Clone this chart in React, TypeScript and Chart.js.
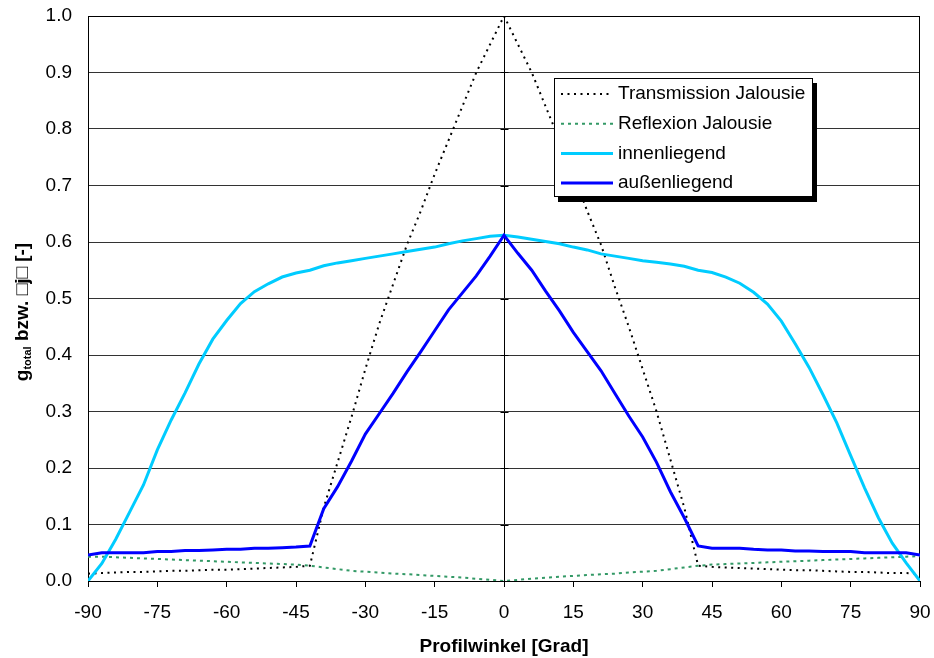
import React, { useEffect, useRef } from 'react';
import { Chart, registerables } from 'chart.js';
Chart.register(...registerables);

const FONT = "'Liberation Sans', Arial, sans-serif";

const seriesNames = ['Transmission Jalousie', 'Reflexion Jalousie', 'innenliegend', 'außenliegend'];
const xTitle = 'Profilwinkel [Grad]';
const yTitleParts = ['g', 'total', ' bzw. \u25A1j\u25A1 [-]'];

const angles = [
  -90, -87, -84, -81, -78, -75, -72, -69, -66, -63, -60, -57, -54, -51, -48, -45, -42, -39, -36, -33, -30, -27, -24, -21, -18, -15, -12, -9, -6, -3,
  0,
  3, 6, 9, 12, 15, 18, 21, 24, 27, 30, 33, 36, 39, 42, 45, 48, 51, 54, 57, 60, 63, 66, 69, 72, 75, 78, 81, 84, 87, 90,
];

const transmission = [
  0.013, 0.014, 0.015, 0.016, 0.016, 0.017, 0.018, 0.018, 0.019, 0.02, 0.02, 0.021, 0.022, 0.023, 0.024, 0.025, 0.027, 0.13, 0.21, 0.29, 0.375, 0.455, 0.525, 0.595, 0.655, 0.72, 0.78, 0.84, 0.9, 0.95,
  1.0,
  0.95, 0.9, 0.84, 0.78, 0.72, 0.655, 0.595, 0.52, 0.45, 0.375, 0.3, 0.215, 0.13, 0.027, 0.025, 0.024, 0.023, 0.022, 0.021, 0.02, 0.019, 0.019, 0.018, 0.017, 0.016, 0.016, 0.015, 0.014, 0.014, 0.013,
];

const reflexion = [
  0.043, 0.043, 0.042, 0.041, 0.04, 0.039, 0.038, 0.037, 0.036, 0.035, 0.034, 0.033, 0.032, 0.031, 0.03, 0.029, 0.027, 0.024, 0.021, 0.018, 0.0165, 0.015, 0.013, 0.012, 0.0105, 0.009, 0.0075, 0.006, 0.004, 0.002,
  0,
  0.002, 0.004, 0.006, 0.0075, 0.009, 0.0105, 0.012, 0.013, 0.015, 0.0165, 0.018, 0.021, 0.024, 0.027, 0.029, 0.03, 0.031, 0.032, 0.033, 0.034, 0.035, 0.036, 0.037, 0.038, 0.039, 0.04, 0.041, 0.042, 0.043, 0.044,
];

const innenliegend = [
  0, 0.031, 0.074, 0.122, 0.17, 0.232, 0.285, 0.333, 0.384, 0.428, 0.461, 0.491, 0.512, 0.526, 0.538, 0.545, 0.55, 0.558, 0.563, 0.567, 0.571, 0.575, 0.579, 0.583, 0.587, 0.591, 0.597, 0.602, 0.606, 0.61,
  0.612,
  0.609, 0.605, 0.601, 0.597, 0.591, 0.586, 0.579, 0.575, 0.571, 0.567, 0.564, 0.561, 0.557, 0.55, 0.546, 0.538, 0.527, 0.511, 0.49, 0.46, 0.42, 0.378, 0.33, 0.28, 0.222, 0.165, 0.112, 0.067, 0.032, 0,
];

const aussenliegend = [
  0.046, 0.05, 0.05, 0.05, 0.05, 0.052, 0.052, 0.054, 0.054, 0.055, 0.056, 0.056, 0.058, 0.058, 0.059, 0.06, 0.062, 0.128, 0.167, 0.212, 0.26, 0.296, 0.332, 0.37, 0.406, 0.443, 0.48, 0.51, 0.54, 0.575,
  0.612,
  0.58, 0.55, 0.513, 0.478, 0.44, 0.406, 0.372, 0.332, 0.292, 0.255, 0.21, 0.158, 0.112, 0.062, 0.058, 0.058, 0.058, 0.056, 0.055, 0.055, 0.053, 0.053, 0.052, 0.052, 0.052, 0.05, 0.05, 0.05, 0.05, 0.046,
];

const decor = {
  id: 'decor',
  beforeDatasetsDraw(chart: any) {
    const { ctx, chartArea: a, scales } = chart;
    ctx.save();
    ctx.strokeStyle = '#000';
    ctx.lineWidth = 1;
    ctx.strokeRect(Math.round(a.left) + 0.5, Math.round(a.top) + 0.5, Math.round(a.right - a.left) - 1, Math.round(a.bottom - a.top));
    const x0 = Math.round(scales.x.getPixelForValue(0)) + 0.5;
    ctx.beginPath();
    for (let v = 0; v <= 10; v++) {
      const y = Math.round(scales.y.getPixelForValue(v / 10)) + 0.5;
      ctx.moveTo(x0 - 4, y);
      ctx.lineTo(x0 + 4, y);
    }
    ctx.stroke();
    ctx.restore();
  },
  afterDraw(chart: any) {
    const { ctx, chartArea: a } = chart;
    ctx.save();
    // legend
    const bx = 554.5, by = 78.5, bw = 258, bh = 118;
    ctx.fillStyle = '#000';
    ctx.fillRect(bx + 3.5, by + 4.5, bw + 1, bh + 1);
    ctx.fillStyle = '#fff';
    ctx.fillRect(bx, by, bw, bh);
    ctx.strokeStyle = '#000';
    ctx.lineWidth = 1;
    ctx.strokeRect(bx, by, bw, bh);
    const order = [0, 1, 2, 3];
    order.forEach((di, i) => {
      const ds = chart.data.datasets[di];
      const y = 94 + i * 29.7;
      ctx.beginPath();
      ctx.strokeStyle = ds.borderColor;
      ctx.lineWidth = ds.borderWidth;
      ctx.setLineDash(ds.borderDash || []);
      ctx.moveTo(561, y);
      ctx.lineTo(613, y);
      ctx.stroke();
      ctx.setLineDash([]);
      ctx.fillStyle = '#000';
      ctx.font = `19px ${FONT}`;
      ctx.textBaseline = 'middle';
      ctx.textAlign = 'left';
      ctx.fillText(ds.label, 618, y);
    });
    // x title
    ctx.font = `bold 19px ${FONT}`;
    ctx.textAlign = 'center';
    ctx.textBaseline = 'middle';
    ctx.fillStyle = '#000';
    ctx.fillText(xTitle, (a.left + a.right) / 2, 647);
    // y title with subscript
    const big = `bold 19px ${FONT}`;
    const small = `bold 11px ${FONT}`;
    ctx.font = big;
    const w0 = ctx.measureText(yTitleParts[0]).width;
    const w2 = ctx.measureText(yTitleParts[2]).width;
    ctx.font = small;
    const w1 = ctx.measureText(yTitleParts[1]).width;
    const total = w0 + w1 + w2;
    ctx.translate(28, 312);
    ctx.rotate(-Math.PI / 2);
    ctx.textAlign = 'left';
    ctx.textBaseline = 'alphabetic';
    let x = -total / 2;
    ctx.font = big;
    ctx.fillText(yTitleParts[0], x, 0);
    x += w0;
    ctx.font = small;
    ctx.fillText(yTitleParts[1], x, 3);
    x += w1;
    ctx.font = big;
    ctx.fillText(yTitleParts[2], x, 0);
    ctx.restore();
  },
};

export default function App() {
  const ref = useRef<HTMLCanvasElement>(null);
  useEffect(() => {
    document.body.style.margin = '0';
    const mk = (ys: number[]) => angles.map((a, i) => ({ x: a, y: ys[i] }));
    const chart = new Chart(ref.current as HTMLCanvasElement, {
      type: 'scatter',
      data: {
        datasets: [
          { label: seriesNames[0], data: mk(transmission), borderColor: '#000000', borderWidth: 2, borderDash: [2, 4.5], showLine: true, pointRadius: 0, order: 3 },
          { label: seriesNames[1], data: mk(reflexion), borderColor: '#339966', borderWidth: 2, borderDash: [3, 4], showLine: true, pointRadius: 0, order: 2 },
          { label: seriesNames[2], data: mk(innenliegend), borderColor: '#00CCFF', borderWidth: 3, showLine: true, pointRadius: 0, order: 1 },
          { label: seriesNames[3], data: mk(aussenliegend), borderColor: '#0000FF', borderWidth: 3, showLine: true, pointRadius: 0, order: 0 },
        ] as any,
      },
      options: {
        responsive: false,
        animation: false,
        layout: { padding: { left: 0, right: 14, top: 16, bottom: 0 } },
        plugins: { legend: { display: false }, tooltip: { enabled: false } },
        scales: {
          x: {
            type: 'linear', min: -90, max: 90,
            afterFit: (s: any) => { s.height = 77; s.paddingLeft = 0; s.paddingRight = 0; },
            ticks: { stepSize: 15, autoSkip: false, maxRotation: 0, color: '#000', font: { family: FONT, size: 19 }, padding: 14 },
            grid: {
              color: (c: any) => (c.tick && c.tick.value === 0 ? '#000' : 'rgba(0,0,0,0)'),
              tickColor: '#000', tickLength: 6, lineWidth: 1,
            },
            border: { display: true, color: '#000', width: 1 },
          },
          y: {
            min: 0, max: 1,
            afterFit: (s: any) => { s.width = 88; s.paddingTop = 0; s.paddingBottom = 0; },
            ticks: { stepSize: 0.1, callback: (v: any) => Number(v).toFixed(1), color: '#000', font: { family: FONT, size: 19 }, padding: 16 },
            grid: { color: '#333', drawTicks: false, lineWidth: 1 },
            border: { display: true, color: '#000', width: 1 },
          },
        },
      } as any,
      plugins: [decor],
    });
    return () => chart.destroy();
  }, []);
  return (
    <div style={{ position: 'absolute', left: 0, top: 0, width: 934, height: 658 }}>
      <canvas ref={ref} width={934} height={658} style={{ display: 'block' }} />
    </div>
  );
}
